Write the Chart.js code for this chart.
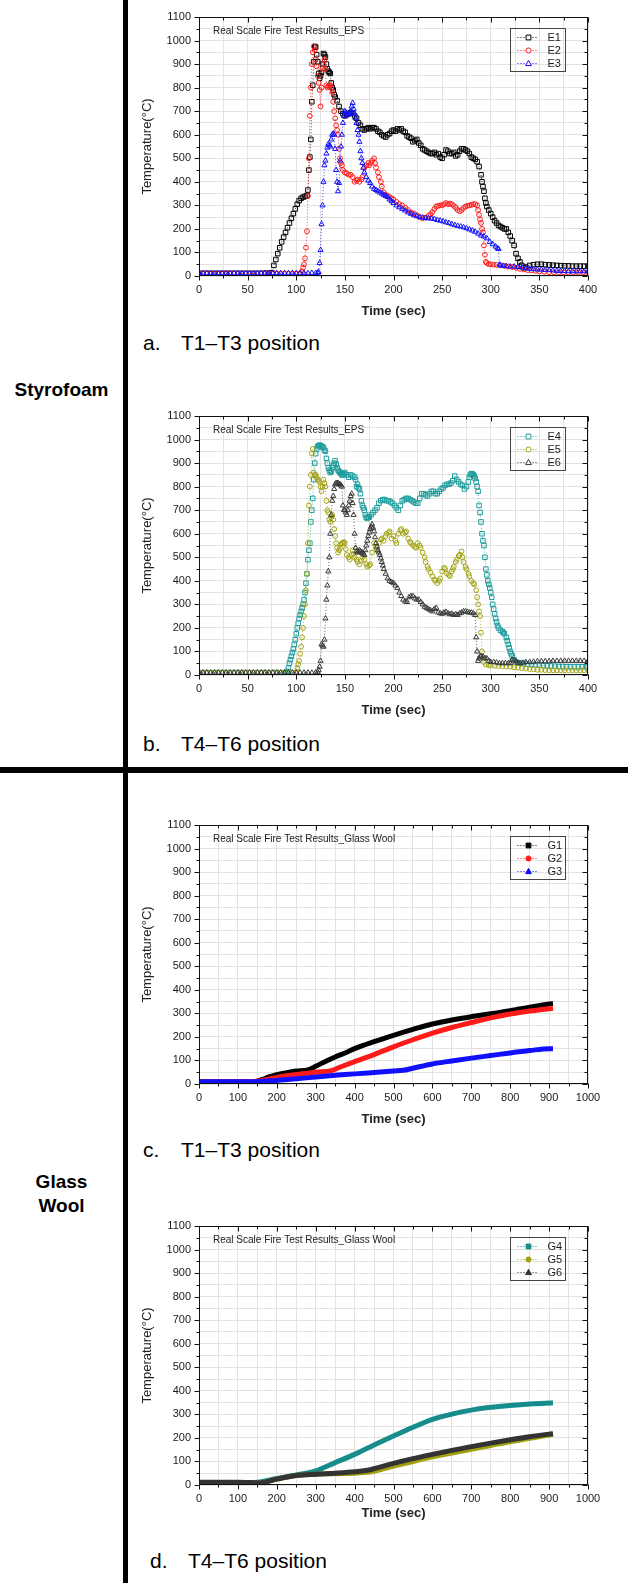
<!DOCTYPE html>
<html>
<head>
<meta charset="utf-8">
<script src="https://cdn.jsdelivr.net/npm/chart.js@4.4.1/dist/chart.umd.min.js"></script>
<style>
  html, body { margin: 0; padding: 0; background: #fff; }
  #page { position: relative; width: 628px; height: 1583px; overflow: hidden; font-family: "Liberation Sans", Arial, sans-serif; color: #000; }
  .vline { position: absolute; left: 123px; top: 0; width: 5px; height: 1583px; background: #000; }
  .hline { position: absolute; left: 0; top: 767px; width: 628px; height: 6px; background: #000; }
  .group { position: absolute; left: 0; width: 123px; text-align: center; font-weight: bold; font-size: 19px; line-height: 24px; }
  .cap { position: absolute; font-size: 21px; line-height: 20px; white-space: nowrap; }
  canvas { position: absolute; left: 136px; }
</style>
</head>
<body>
<div id="page">
  <div class="vline"></div>
  <div class="hline"></div>
  <div class="group" style="top:378px">Styrofoam</div>
  <div class="group" style="top:1170px">Glass<br>Wool</div>

  <canvas id="chartA" width="492" height="323" style="top:0px"></canvas>
  <span class="cap" style="top:333px;left:143px">a.</span>
  <span class="cap" style="top:333px;left:181px">T1–T3 position</span>

  <canvas id="chartB" width="492" height="323" style="top:399px"></canvas>
  <span class="cap" style="top:734px;left:143px">b.</span>
  <span class="cap" style="top:734px;left:181px">T4–T6 position</span>

  <canvas id="chartC" width="492" height="323" style="top:808px"></canvas>
  <span class="cap" style="top:1140px;left:143px">c.</span>
  <span class="cap" style="top:1140px;left:181px">T1–T3 position</span>

  <canvas id="chartD" width="492" height="316" style="top:1209px"></canvas>
  <span class="cap" style="top:1551px;left:150px">d.</span>
  <span class="cap" style="top:1551px;left:188px">T4–T6 position</span>
</div>
<script>
'use strict';
// ---- axis ticks ----
var tempTicks = [0, 100, 200, 300, 400, 500, 600, 700, 800, 900, 1000, 1100];
var timeTicksEPS = [0, 50, 100, 150, 200, 250, 300, 350, 400];
var timeTicksGW = [0, 100, 200, 300, 400, 500, 600, 700, 800, 900, 1000];

// ---- Styrofoam (EPS), [time sec, temperature C] ----
var e1 = [[0,11],[4,11],[8,11],[12,11],[16,11],[20,11],[24,11],[28,11],[32,11],[36,11],[40,11],[44,11],[48,11],[52,11],[56,11],[60,11],[64,11],[68,12],[72,12],[75,14],[77,45],[79,70],[81,95],[83,120],[85,145],[87,165],[89,185],[91,205],[93,225],[95,245],[97,265],[99,285],[101,305],[103,320],[105,330],[107,335],[109,338],[111,342],[112,365],[113,450],[114,505],[115,580],[116,740],[117,810],[118,910],[119,975],[120,972],[121,940],[122,910],[123,860],[124,840],[125,850],[126,865],[127,900],[128,945],[129,940],[130,930],[131,900],[132,880],[133,870],[134,865],[135,860],[136,820],[137,800],[138,790],[139,770],[140,760],[142,745],[144,720],[146,700],[148,690],[150,680],[152,685],[154,690],[156,695],[158,690],[160,680],[162,670],[164,650],[166,640],[168,625],[170,620],[172,625],[174,630],[176,625],[178,630],[180,630],[182,625],[184,615],[186,610],[188,600],[190,595],[192,590],[194,600],[196,605],[198,615],[200,620],[202,615],[204,625],[206,620],[208,625],[210,615],[212,610],[214,595],[216,590],[218,585],[220,570],[222,575],[224,580],[226,565],[228,555],[230,540],[232,535],[234,530],[236,525],[238,520],[240,520],[242,525],[244,515],[246,520],[248,505],[250,500],[252,515],[254,535],[256,530],[258,520],[260,520],[262,525],[264,510],[266,515],[268,530],[270,540],[272,540],[274,535],[276,530],[278,520],[280,505],[282,500],[284,495],[286,485],[288,465],[290,430],[291,400],[292,380],[293,360],[294,330],[295,310],[296,295],[298,280],[300,265],[302,250],[304,235],[306,225],[308,215],[310,210],[312,205],[314,200],[316,200],[318,185],[320,170],[322,150],[324,130],[326,95],[328,75],[330,60],[332,45],[334,35],[336,38],[340,45],[344,48],[348,50],[352,50],[356,48],[360,47],[364,46],[368,45],[372,44],[376,43],[380,43],[384,42],[388,42],[392,42],[396,42],[400,42]];
var e2 = [[0,10],[4,10],[8,10],[12,10],[16,10],[20,10],[24,10],[28,10],[32,10],[36,10],[40,10],[44,10],[48,10],[52,10],[56,10],[60,10],[64,10],[68,10],[72,10],[76,10],[80,10],[84,10],[88,10],[92,10],[96,10],[100,10],[104,11],[106,20],[107,35],[108,50],[109,75],[110,120],[111,190],[112,340],[113,500],[114,680],[115,800],[116,900],[117,950],[118,975],[119,960],[120,920],[121,890],[122,850],[123,820],[124,790],[125,720],[126,800],[127,880],[128,900],[129,920],[130,880],[131,810],[132,800],[133,805],[134,810],[135,810],[136,800],[137,780],[138,740],[139,700],[140,670],[141,640],[142,620],[143,600],[144,540],[145,500],[146,480],[147,470],[148,450],[150,440],[152,435],[154,430],[156,430],[158,420],[160,400],[162,405],[163,410],[165,400],[167,410],[168,420],[170,460],[172,470],[174,480],[175,470],[177,480],[178,490],[180,500],[181,480],[182,460],[184,440],[185,420],[187,400],[188,380],[190,355],[192,345],[194,340],[196,335],[198,330],[200,325],[203,315],[206,305],[209,300],[212,290],[215,280],[218,270],[221,265],[224,258],[227,250],[230,245],[233,248],[236,255],[238,262],[240,272],[242,285],[244,295],[246,298],[248,300],[250,300],[252,305],[254,310],[256,305],[258,308],[260,305],[262,298],[264,290],[266,280],[268,275],[270,280],[272,288],[274,295],[276,298],[278,300],[280,302],[282,305],[284,305],[286,300],[287,280],[288,260],[289,240],[290,225],[291,200],[292,185],[293,130],[294,90],[295,60],[296,55],[298,50],[300,50],[303,48],[306,47],[310,45],[314,43],[318,40],[322,38],[326,35],[330,30],[334,28],[338,25],[342,24],[346,22],[350,20],[355,18],[360,16],[365,15],[370,15],[375,15],[380,15],[385,15],[390,15],[395,15],[400,15]];
var e3 = [[0,12],[4,12],[8,12],[12,12],[16,12],[20,12],[24,12],[28,12],[32,12],[36,12],[40,12],[44,12],[48,12],[52,12],[56,12],[60,12],[64,12],[68,12],[72,12],[76,12],[80,12],[84,12],[88,12],[92,12],[96,12],[100,12],[104,12],[108,12],[112,12],[116,13],[120,13],[122,14],[123,16],[124,55],[125,110],[126,220],[127,300],[128,400],[129,470],[130,490],[131,520],[132,545],[133,560],[134,555],[135,550],[136,580],[137,600],[138,605],[139,600],[140,540],[141,450],[142,400],[143,360],[144,395],[145,490],[146,550],[147,600],[148,650],[149,680],[150,700],[151,695],[152,690],[153,685],[154,690],[155,690],[156,700],[157,720],[158,735],[159,710],[160,690],[161,670],[162,650],[163,620],[164,600],[165,570],[166,530],[167,500],[168,480],[169,460],[170,440],[172,420],[174,405],[176,395],[178,380],[180,370],[182,365],[184,360],[186,355],[188,350],[190,345],[192,340],[194,335],[196,325],[198,318],[200,310],[203,300],[206,292],[209,285],[212,278],[215,270],[218,264],[221,258],[224,254],[227,250],[230,248],[233,246],[236,245],[239,244],[242,242],[245,238],[248,235],[251,232],[254,228],[257,225],[260,220],[263,216],[266,213],[269,210],[272,207],[275,203],[278,198],[281,193],[284,188],[287,180],[290,172],[293,168],[296,160],[299,145],[302,135],[305,125],[307,118],[308,115],[309,48],[310,45],[313,43],[316,42],[320,40],[324,40],[328,38],[332,36],[336,33],[340,30],[344,29],[348,28],[352,27],[356,26],[360,25],[364,24],[368,22],[372,21],[376,21],[380,20],[384,20],[388,20],[392,20],[396,20],[400,20]];
var e4 = [[0,10],[4,10],[8,10],[12,10],[16,10],[20,10],[24,10],[28,10],[32,10],[36,10],[40,10],[44,10],[48,10],[52,10],[56,10],[60,10],[64,10],[68,10],[72,10],[76,10],[80,10],[84,10],[88,10],[90,12],[91,15],[92,30],[93,50],[94,65],[95,80],[96,95],[97,110],[98,130],[99,150],[100,175],[101,200],[102,220],[103,240],[104,255],[105,270],[106,285],[107,300],[108,320],[109,350],[110,390],[111,430],[112,490],[113,530],[114,560],[115,650],[116,700],[117,750],[118,830],[119,900],[120,940],[121,960],[122,970],[123,975],[124,975],[125,975],[126,970],[127,970],[128,965],[129,955],[130,950],[131,920],[132,900],[133,880],[134,870],[135,860],[136,865],[137,880],[138,890],[139,900],[140,910],[141,895],[142,880],[143,870],[144,865],[145,860],[146,855],[147,850],[148,850],[149,855],[150,860],[152,850],[154,840],[156,850],[158,845],[160,840],[161,830],[162,800],[163,810],[164,795],[165,790],[166,770],[167,740],[168,720],[169,710],[170,700],[171,680],[172,670],[173,665],[174,670],[175,670],[177,680],[179,690],[181,700],[183,710],[185,730],[187,740],[189,745],[191,745],[193,740],[195,740],[197,735],[199,730],[201,720],[203,710],[205,700],[207,720],[209,740],[211,745],[213,750],[215,750],[217,745],[219,740],[221,735],[223,730],[225,730],[227,750],[229,770],[231,770],[233,765],[235,760],[237,770],[239,780],[241,780],[243,770],[245,770],[247,780],[249,790],[251,795],[253,805],[255,810],[257,810],[259,815],[261,825],[263,845],[265,830],[267,820],[269,810],[271,805],[273,790],[275,800],[277,820],[278,840],[279,850],[280,855],[281,855],[282,850],[283,845],[284,835],[285,820],[286,800],[287,780],[288,720],[289,690],[290,650],[291,600],[292,570],[293,550],[294,500],[295,450],[296,425],[297,400],[298,385],[299,370],[300,350],[301,330],[302,300],[303,280],[304,260],[305,240],[306,225],[307,210],[308,200],[310,190],[312,185],[313,180],[314,175],[316,160],[317,145],[318,130],[319,115],[320,100],[321,90],[322,80],[324,65],[326,55],[328,52],[330,50],[334,48],[338,46],[342,45],[346,43],[350,42],[354,40],[358,39],[362,38],[366,37],[370,36],[374,36],[378,35],[382,35],[386,35],[390,35],[394,35],[398,35],[400,35]];
var e5 = [[0,10],[4,10],[8,10],[12,10],[16,10],[20,10],[24,10],[28,10],[32,10],[36,10],[40,10],[44,10],[48,10],[52,10],[56,10],[60,10],[64,10],[68,10],[72,10],[76,10],[80,10],[84,10],[88,10],[92,10],[96,10],[100,12],[101,30],[102,45],[103,60],[104,90],[105,120],[106,160],[107,200],[108,250],[109,300],[110,360],[111,430],[112,560],[113,720],[114,800],[115,850],[116,940],[117,960],[118,860],[119,850],[120,850],[121,840],[122,830],[123,825],[124,820],[125,800],[126,780],[127,800],[128,830],[129,815],[130,800],[131,740],[132,700],[133,690],[134,660],[135,650],[136,670],[137,680],[138,660],[139,620],[140,590],[141,560],[142,540],[143,520],[144,530],[145,540],[146,555],[147,560],[148,560],[149,565],[150,560],[151,535],[152,510],[154,500],[155,490],[157,510],[158,530],[159,515],[160,500],[162,490],[163,480],[165,470],[167,485],[168,500],[170,490],[172,470],[173,460],[175,465],[176,470],[178,520],[180,560],[182,540],[183,530],[185,560],[187,575],[188,580],[190,570],[192,590],[193,600],[195,605],[196,610],[198,580],[200,590],[202,570],[203,560],[205,600],[207,615],[208,620],[210,600],[212,605],[213,610],[215,580],[217,565],[218,560],[220,550],[222,545],[223,540],[225,560],[227,550],[228,540],[230,520],[232,500],[233,480],[235,460],[236,450],[238,435],[240,420],[242,405],[243,400],[245,390],[247,400],[248,410],[250,440],[252,455],[253,450],[255,430],[257,425],[258,420],[260,440],[261,450],[262,460],[264,480],[265,490],[267,505],[268,510],[270,525],[271,500],[272,480],[274,460],[275,450],[277,430],[278,420],[280,400],[282,390],[283,385],[285,360],[286,330],[287,300],[288,270],[289,250],[290,180],[291,100],[292,70],[293,55],[295,45],[298,42],[300,40],[304,39],[308,38],[312,37],[316,36],[320,35],[324,33],[328,31],[332,29],[336,27],[340,25],[344,24],[348,22],[352,22],[356,21],[360,20],[364,20],[368,20],[372,20],[376,20],[380,20],[384,20],[388,20],[392,20],[396,20],[400,20]];
var e6 = [[0,10],[4,10],[8,10],[12,10],[16,10],[20,10],[24,10],[28,10],[32,10],[36,10],[40,10],[44,10],[48,10],[52,10],[56,10],[60,10],[64,10],[68,10],[72,10],[76,10],[80,10],[84,10],[88,10],[92,10],[96,10],[100,10],[104,10],[108,10],[112,10],[116,10],[120,11],[122,12],[123,20],[124,35],[125,60],[126,130],[127,125],[128,120],[129,150],[130,240],[131,320],[132,380],[133,440],[134,500],[135,600],[136,680],[137,740],[138,760],[139,790],[140,810],[141,815],[142,815],[143,815],[144,810],[145,810],[146,805],[147,800],[148,720],[149,700],[150,700],[151,690],[152,680],[153,700],[154,720],[155,740],[156,760],[157,770],[158,730],[159,680],[160,600],[161,540],[162,525],[163,520],[164,525],[165,530],[166,525],[167,520],[168,520],[169,515],[170,510],[171,530],[172,550],[173,570],[174,590],[175,605],[176,620],[177,630],[178,640],[179,625],[180,610],[181,585],[182,560],[183,545],[184,530],[185,520],[186,510],[187,495],[188,480],[189,465],[190,450],[192,430],[194,410],[196,400],[198,395],[200,390],[202,380],[204,370],[206,350],[208,335],[210,320],[212,312],[214,310],[216,330],[218,335],[220,335],[222,325],[224,320],[226,320],[228,310],[230,300],[232,290],[234,285],[236,280],[238,275],[240,270],[242,280],[244,285],[246,265],[248,262],[250,260],[252,265],[254,268],[256,262],[258,258],[260,260],[262,255],[264,258],[266,255],[268,262],[270,265],[272,270],[274,270],[276,268],[278,265],[280,265],[282,262],[284,255],[285,160],[286,100],[287,60],[288,70],[289,78],[290,80],[292,78],[294,72],[296,70],[298,60],[300,55],[303,55],[306,53],[309,50],[312,50],[315,50],[318,50],[320,50],[322,65],[324,62],[326,58],[328,52],[330,50],[333,52],[336,55],[340,55],[344,56],[348,58],[352,58],[356,58],[360,58],[364,60],[368,60],[372,60],[376,60],[380,60],[384,60],[388,60],[392,60],[396,60],[400,60]];

// ---- Glass Wool, [time sec, temperature C] ----
var g1 = [[0,10],[50,10],[100,10],[140,10],[160,18],[180,30],[200,40],[225,48],[250,55],[280,60],[300,75],[330,100],[350,115],[380,135],[400,150],[450,180],[500,207],[550,232],[600,255],[650,272],[700,286],[750,298],[800,311],[850,326],[900,340],[910,342]];
var g2 = [[0,10],[50,10],[100,10],[150,12],[200,28],[250,40],[300,50],[340,57],[360,70],[400,95],[450,125],[500,158],[550,188],[600,216],[650,240],[700,261],[750,281],[800,297],[850,310],[900,320],[910,322]];
var g3 = [[0,10],[50,10],[100,10],[150,10],[200,15],[250,22],[300,30],[350,37],[400,43],[450,49],[500,55],[525,58],[550,67],[600,85],[650,98],[700,110],[750,121],[800,132],[850,142],[900,150],[910,150]];
var g4 = [[0,10],[50,10],[100,10],[150,12],[200,28],[250,43],[300,60],[350,95],[400,130],[450,170],[500,208],[550,245],[600,279],[650,301],[700,318],[750,330],[800,338],[850,344],[900,348],[910,349]];
var g5 = [[0,10],[50,10],[100,10],[160,10],[200,25],[250,40],[300,46],[350,48],[400,50],[440,55],[500,80],[550,100],[600,120],[650,136],[700,152],[750,168],[800,184],[850,198],[900,212],[910,215]];
var g6 = [[0,12],[50,12],[100,12],[160,10],[200,25],[250,40],[300,46],[350,50],[400,56],[440,65],[500,92],[550,112],[600,130],[650,147],[700,163],[750,178],[800,192],[850,205],[900,216],[910,218]];

var FONT = '"Liberation Sans", Arial, sans-serif';
Chart.defaults.font.family = FONT;
Chart.defaults.color = '#1a1a1a';

function xy(pairs) {
  return pairs.map(function(p) { return { x: p[0], y: p[1] }; });
}

function markerPath(ctx, style, x, y, r) {
  ctx.beginPath();
  if (style === 'rect') {
    ctx.rect(x - r * 0.75, y - r * 0.75, r * 1.5, r * 1.5);
  } else if (style === 'circle') {
    ctx.arc(x, y, r * 0.8, 0, Math.PI * 2);
  } else {
    ctx.moveTo(x, y - r);
    ctx.lineTo(x + r * 0.9, y + r * 0.65);
    ctx.lineTo(x - r * 0.9, y + r * 0.65);
    ctx.closePath();
  }
}

function epsSet(label, pairs, color, style, order) {
  return {
    label: label, data: xy(pairs), order: order, showLine: true,
    borderColor: color, borderWidth: 0.8, borderDash: [1, 2],
    pointStyle: style, pointRadius: style === 'rect' ? 3.2 : (style === 'circle' ? 2.4 : 3),
    pointBorderWidth: 1, pointBorderColor: color, pointBackgroundColor: 'rgba(255,255,255,0)',
    markerFill: false
  };
}

function gwSet(label, pairs, color, style, order) {
  return {
    label: label, data: xy(pairs), order: order, showLine: true,
    borderColor: color, borderWidth: 5, cubicInterpolationMode: 'monotone',
    pointRadius: 0, pointStyle: style, markerFill: true
  };
}

// frame, ticks, inner title and legend box (Origin style)
var framePlugin = {
  id: 'frame',
  afterDatasetsDraw: function(chart, args, o) {
    var ctx = chart.ctx, a = chart.chartArea;
    var xs = chart.scales.x, ys = chart.scales.y;
    var L = Math.round(a.left) + 0.5, R = Math.round(a.right) - 0.5;
    var T = Math.round(a.top) + 0.5, B = Math.round(a.bottom) - 0.5;
    ctx.save();
    ctx.strokeStyle = '#111';
    ctx.lineWidth = 1;
    ctx.strokeRect(L, T, R - L, B - T);
    ctx.beginPath();
    xs.ticks.forEach(function(t) {
      var px = Math.round(xs.getPixelForValue(t.value)) + 0.5;
      var len = o.xMajor.indexOf(t.value) >= 0 ? 5 : 3;
      ctx.moveTo(px, B); ctx.lineTo(px, B + len);
      ctx.moveTo(px, T); ctx.lineTo(px, T + len);
    });
    ys.ticks.forEach(function(t) {
      var py = Math.round(ys.getPixelForValue(t.value)) + 0.5;
      var len = o.yMajor.indexOf(t.value) >= 0 ? 5 : 3;
      ctx.moveTo(L, py); ctx.lineTo(L - len, py);
      ctx.moveTo(R, py); ctx.lineTo(R - len, py);
    });
    ctx.stroke();

    ctx.fillStyle = '#222';
    ctx.font = '10px ' + FONT;
    ctx.textAlign = 'left';
    ctx.textBaseline = 'middle';
    ctx.fillText(o.title, a.left + 14, a.top + 14);

    var bx = Math.round(a.right - 23 - 55) + 0.5, by = Math.round(a.top + 11) + 0.5;
    ctx.strokeStyle = '#444';
    ctx.strokeRect(bx, by, 55, 43);
    ctx.font = '11px ' + FONT;
    chart.data.datasets.forEach(function(ds, i) {
      var ly = by + 9 + i * 13;
      ctx.save();
      ctx.strokeStyle = ds.borderColor;
      ctx.lineWidth = 1;
      ctx.setLineDash([1, 2]);
      ctx.beginPath();
      ctx.moveTo(bx + 7, ly); ctx.lineTo(bx + 28, ly);
      ctx.stroke();
      ctx.setLineDash([]);
      markerPath(ctx, ds.pointStyle, bx + 18, ly, 3.2);
      if (ds.markerFill) { ctx.fillStyle = ds.borderColor; ctx.fill(); }
      else { ctx.fillStyle = '#fff'; ctx.fill(); }
      ctx.stroke();
      ctx.restore();
      ctx.fillStyle = '#222';
      ctx.fillText(ds.label, bx + 37, ly + 0.5);
    });
    ctx.restore();
  }
};

function makeChart(id, datasets, xTicks, xMinor, title, xAxisHeight) {
  return new Chart(document.getElementById(id), {
    type: 'scatter',
    data: { datasets: datasets },
    options: {
      responsive: false,
      animation: false,
      devicePixelRatio: 1,
      layout: { padding: { top: 17, right: 40, left: 0, bottom: 0 } },
      plugins: {
        legend: { display: false },
        tooltip: { enabled: false },
        frame: { title: title, xMajor: xTicks, yMajor: tempTicks }
      },
      scales: {
        x: {
          type: 'linear',
          min: xTicks[0], max: xTicks[xTicks.length - 1],
          grid: { color: '#e2e2e2', drawTicks: false },
          border: { display: false },
          ticks: {
            stepSize: xMinor, autoSkip: false, maxRotation: 0, maxTicksLimit: 100, padding: 7,
            font: { size: 11 }, color: '#1a1a1a',
            callback: function(v) { return xTicks.indexOf(v) >= 0 ? String(v) : ''; }
          },
          title: { display: true, text: 'Time (sec)', font: { size: 13, weight: 'bold' }, color: '#222', padding: { top: 4, bottom: 4 } },
          afterFit: function(s) { s.height = xAxisHeight; }
        },
        y: {
          type: 'linear',
          min: tempTicks[0], max: tempTicks[tempTicks.length - 1],
          grid: { color: '#e2e2e2', drawTicks: false },
          border: { display: false },
          ticks: {
            stepSize: 50, autoSkip: false, maxTicksLimit: 100, padding: 8,
            font: { size: 11 }, color: '#1a1a1a',
            callback: function(v) { return tempTicks.indexOf(v) >= 0 ? String(v) : ''; }
          },
          title: { display: true, text: 'Temperature(°C)', font: { size: 13 }, color: '#222', padding: { top: 4, bottom: 4 } },
          afterFit: function(s) { s.width = 63; }
        }
      }
    },
    plugins: [framePlugin]
  });
}

makeChart('chartA', [
  epsSet('E1', e1, '#000000', 'rect', 3),
  epsSet('E2', e2, '#ff1a1a', 'circle', 2),
  epsSet('E3', e3, '#1010ff', 'triangle', 1)
], timeTicksEPS, 25, 'Real Scale Fire Test Results_EPS', 47);

makeChart('chartB', [
  epsSet('E4', e4, '#1e9c9c', 'rect', 3),
  epsSet('E5', e5, '#a3a314', 'circle', 2),
  epsSet('E6', e6, '#3a3a3a', 'triangle', 1)
], timeTicksEPS, 25, 'Real Scale Fire Test Results_EPS', 47);

makeChart('chartC', [
  gwSet('G1', g1, '#000000', 'rect', 3),
  gwSet('G2', g2, '#ff1a1a', 'circle', 2),
  gwSet('G3', g3, '#1010ff', 'triangle', 1)
], timeTicksGW, 50, 'Real Scale Fire Test Results_Glass Wool', 47);

makeChart('chartD', [
  gwSet('G4', g4, '#178c8c', 'rect', 3),
  gwSet('G5', g5, '#a0a010', 'circle', 2),
  gwSet('G6', g6, '#333333', 'triangle', 1)
], timeTicksGW, 50, 'Real Scale Fire Test Results_Glass Wool', 40);
</script>
</body>
</html>
